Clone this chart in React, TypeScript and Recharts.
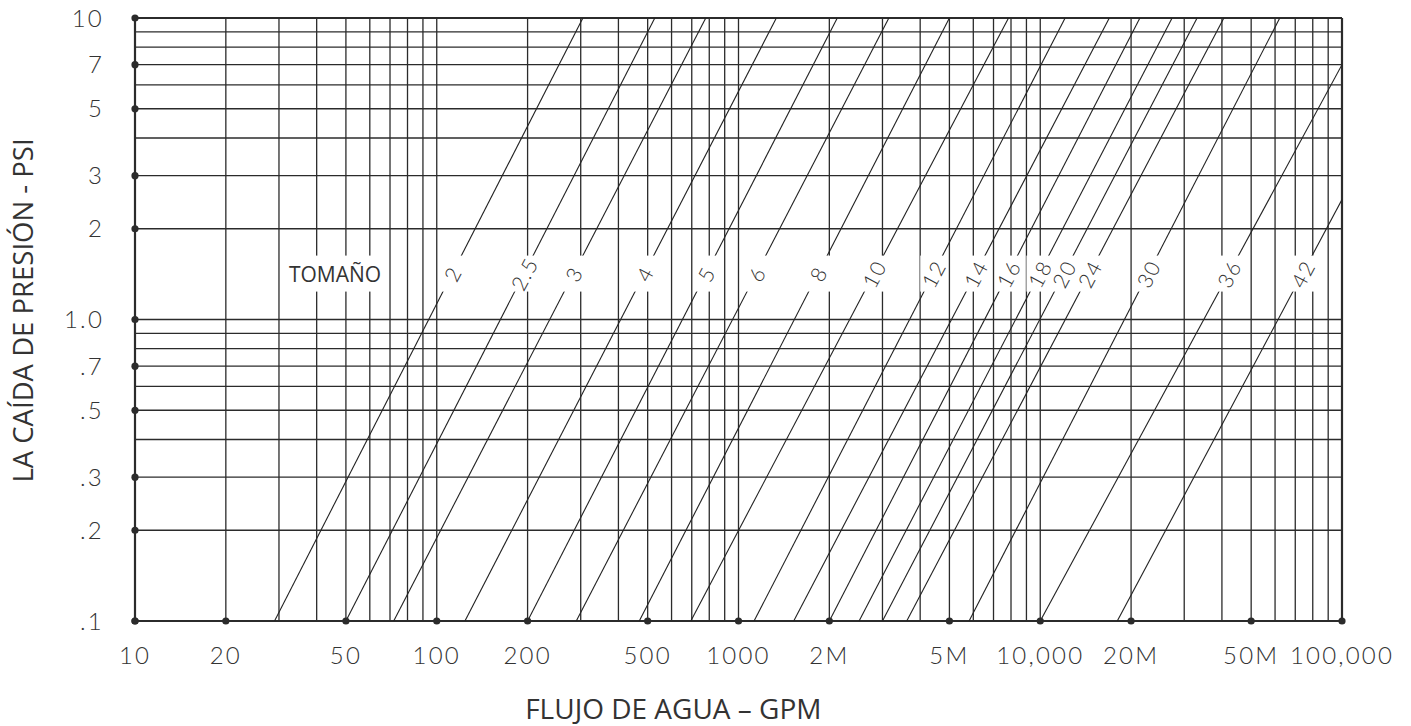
import { Label, Line, LineChart, ReferenceDot, ReferenceLine, XAxis, YAxis } from "recharts";

/* ────────── pressure drop vs water flow, log-log, one line per size ────────── */

const sizes = ["2", "2.5", "3", "4", "5", "6", "8", "10", "12", "14", "16", "18", "20", "24", "30", "36", "42"];
// flow (gpm) where each size line leaves the 0.1 psi floor
const startFlow = [29, 50, 72, 124, 200, 290, 469, 695, 1126, 1524, 2000, 2510, 3000, 3610, 5810, 10000, 18000];
const startPsi = [0.1, 0.1, 0.1, 0.1, 0.1, 0.1, 0.1, 0.1, 0.1, 0.1, 0.1, 0.1, 0.1, 0.1, 0.1, 0.1, 0.1];
// where each line leaves the chart (top edge at 10 psi, or right edge at 100,000 gpm)
const endFlow = [305, 528, 779, 1335, 2125, 3150, 5000, 7850, 12090, 16940, 21390, 27350, 33100, 40600, 62200, 100000, 100000];
const endPsi = [10, 10, 10, 10, 10, 10, 10, 10, 10, 10, 10, 10, 10, 10, 10, 7, 2.5];

const xTicks = [10, 20, 50, 100, 200, 500, 1000, 2000, 5000, 10000, 20000, 50000, 100000];
const xTickLabels = ["10", "20", "50", "100", "200", "500", "1000", "2M", "5M", "10,000", "20M", "50M", "100,000"];
const yTicks = [0.1, 0.2, 0.3, 0.5, 0.7, 1, 2, 3, 5, 7, 10];
const yTickLabels = [".1", ".2", ".3", ".5", ".7", "1.0", "2", "3", "5", "7", "10"];

const gridSteps = [1, 2, 3, 4, 5, 6, 7, 8, 9];
const xDecades = [10, 100, 1000, 10000];
const yDecades = [0.1, 1];

const labelPsi = 1.42; // band where the size labels sit
const tomanoFlow = 46;

const ink = "#2b2b2b";
const tickFont = "Lato, 'DejaVu Sans', sans-serif";
const titleFont = "'Open Sans', 'Noto Sans', sans-serif";

const gridX = [...xDecades.flatMap((d) => gridSteps.map((s) => d * s)), 100000];
const gridY = [...yDecades.flatMap((d) => gridSteps.map((s) => +(d * s).toFixed(2))), 10];

const series = sizes.map((name, i) => ({
  name,
  data: [
    { x: startFlow[i], y: startPsi[i] },
    { x: endFlow[i], y: endPsi[i] },
  ],
}));

// flow where a size line crosses the label band (log-log straight line)
const flowAtLabel = (i: number) => {
  const lx0 = Math.log10(startFlow[i]);
  const lx1 = Math.log10(endFlow[i]);
  const ly0 = Math.log10(startPsi[i]);
  const ly1 = Math.log10(endPsi[i]);
  const t = (Math.log10(labelPsi) - ly0) / (ly1 - ly0);
  return Math.pow(10, lx0 + t * (lx1 - lx0));
};

const XTick = (props: any) => {
  const { x, y, payload } = props;
  const i = xTicks.indexOf(payload.value);
  return (
    <g>
      <circle cx={x} cy={y} r={3.6} fill={ink} />
      <text x={x} y={y + 43} textAnchor="middle" fontFamily={tickFont} fontWeight={300} fontSize={24} letterSpacing={2.2} fill="#333">
        {xTickLabels[i]}
      </text>
    </g>
  );
};

const YTick = (props: any) => {
  const { x, y, payload } = props;
  const i = yTicks.findIndex((v) => Math.abs(v - payload.value) < 1e-9);
  return (
    <g>
      <circle cx={x} cy={y} r={3.6} fill={ink} />
      <text x={x - 31} y={y} dy={8.5} textAnchor="end" fontFamily={tickFont} fontWeight={300} fontSize={24} letterSpacing={2.2} fill="#333">
        {yTickLabels[i]}
      </text>
    </g>
  );
};

const sizeLabel = (text: string) => (props: any) => {
  const { cx, cy } = props;
  return (
    <g>
      <rect x={cx - 13} y={cy - 18} width={26} height={36} fill="#fff" />
      <text
        x={cx}
        y={cy}
        transform={`rotate(-62 ${cx} ${cy})`}
        textAnchor="middle"
        dominantBaseline="central"
        fontFamily={tickFont}
        fontWeight={300}
        fontSize={21}
        letterSpacing={1.5}
        fill="#333"
      >
        {text}
      </text>
    </g>
  );
};

const tomanoLabel = (props: any) => {
  const { cx, cy } = props;
  return (
    <g>
      <rect x={cx - 50} y={cy - 18} width={100} height={36} fill="#fff" />
      <text x={cx} y={cy} textAnchor="middle" dominantBaseline="central" fontFamily={titleFont} fontSize={21} fill="#333">
        TOMAÑO
      </text>
    </g>
  );
};

export default function App() {
  return (
    <div style={{ position: "absolute", left: 0, top: 0, background: "#fff" }}>
      <LineChart width={1411} height={726} margin={{ top: 18, right: 69, left: 0, bottom: 0 }}>
        <XAxis
          type="number"
          dataKey="x"
          scale="log"
          domain={[10, 100000]}
          allowDataOverflow
          ticks={xTicks}
          interval={0}
          axisLine={false}
          tickLine={false}
          tickSize={0}
          tickMargin={0}
          height={105}
          tick={<XTick />}
        >
          <Label
            content={(p: any) => {
              const vb = p.viewBox;
              return (
                <text x={vb.x + vb.width * 0.446} y={vb.y + vb.height - 7} textAnchor="middle" fontFamily={titleFont} fontSize={28} fill="#333">
                  FLUJO DE AGUA – GPM
                </text>
              );
            }}
          />
        </XAxis>
        <YAxis
          type="number"
          dataKey="y"
          scale="log"
          domain={[0.1, 10]}
          allowDataOverflow
          ticks={yTicks}
          interval={0}
          axisLine={false}
          tickLine={false}
          tickSize={0}
          tickMargin={0}
          width={135}
          tick={<YTick />}
        >
          <Label
            content={(p: any) => {
              const vb = p.viewBox;
              const cx = vb.x + 22;
              const cy = vb.y + vb.height / 2 - 9;
              return (
                <text x={cx} y={cy} transform={`rotate(-90 ${cx} ${cy})`} textAnchor="middle" dominantBaseline="central" fontFamily={titleFont} fontSize={27.5} fill="#333">
                  LA CAÍDA DE PRESIÓN - PSI
                </text>
              );
            }}
          />
        </YAxis>

        {gridX.map((v) => (
          <ReferenceLine key={`gx${v}`} x={v} stroke={ink} strokeWidth={v === 10 || v === 100000 ? 2.2 : 1.3} />
        ))}
        {gridY.map((v) => (
          <ReferenceLine key={`gy${v}`} y={v} stroke={ink} strokeWidth={v === 0.1 || v === 10 ? 2.2 : 1.3} />
        ))}

        {series.map((s) => (
          <Line
            key={s.name}
            data={s.data}
            dataKey="y"
            type="linear"
            stroke="#222"
            strokeWidth={1.1}
            dot={false}
            activeDot={false}
            isAnimationActive={false}
          />
        ))}

        <ReferenceDot x={tomanoFlow} y={labelPsi} r={0} shape={tomanoLabel} />
        {series.map((s, i) => (
          <ReferenceDot key={`l${s.name}`} x={flowAtLabel(i)} y={labelPsi} r={0} shape={sizeLabel(s.name)} />
        ))}
      </LineChart>
    </div>
  );
}
